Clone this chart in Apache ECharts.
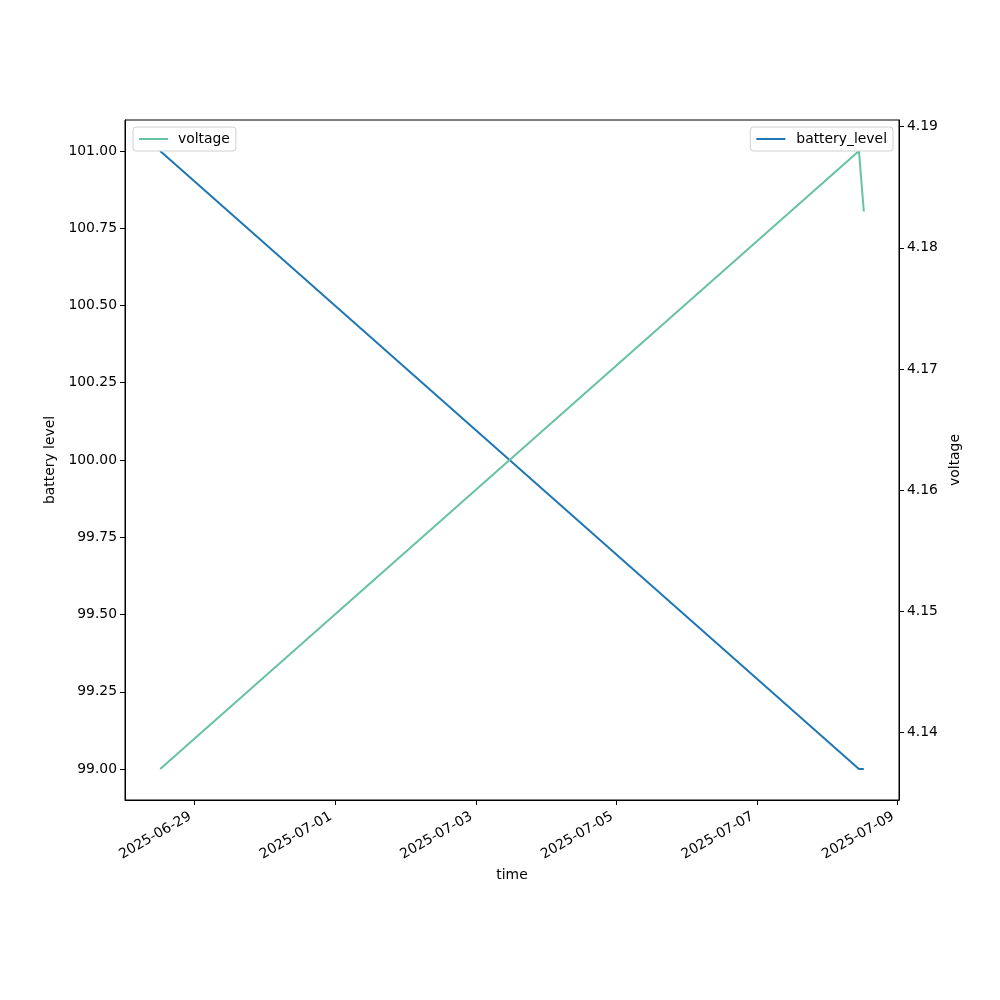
<!DOCTYPE html>
<html>
<head>
<meta charset="utf-8">
<script src="https://cdn.jsdelivr.net/npm/echarts@6/dist/echarts.min.js"></script>
<style>html,body{margin:0;padding:0;background:#fff}#c{width:1000px;height:1000px}</style>
</head>
<body>
<div id="c"></div>
<script>
// data
const times = ["2025-06-28T12:15:00Z", "2025-07-08T10:50:00Z", "2025-07-08T12:30:00Z"];
const batteryLevel = [101, 99, 99];
const voltage = [4.137, 4.188, 4.183];
const xTickDates = ["2025-06-29", "2025-07-01", "2025-07-03", "2025-07-05", "2025-07-07", "2025-07-09"];
const leftTicks = [99.00, 99.25, 99.50, 99.75, 100.00, 100.25, 100.50, 100.75, 101.00];
const rightTicks = [4.14, 4.15, 4.16, 4.17, 4.18, 4.19];

const tMs = times.map(t => Date.parse(t));
const xTickMs = xTickDates.map(d => Date.parse(d + "T00:00:00Z"));
function pad(arr) {
  const lo = Math.min(...arr), hi = Math.max(...arr), m = (hi - lo) * 0.05;
  return [lo - m, hi + m];
}
const xr = pad(tMs), yl = pad(batteryLevel), yr = pad(voltage);

const FONT = "DejaVu Sans";
const FS = 13.9;
const chart = echarts.init(document.getElementById('c'), null, {renderer: 'canvas'});
const axisLineStyle = {color: '#000', width: 1};
chart.setOption({
  animation: false,
  backgroundColor: '#fff',
  textStyle: {fontFamily: FONT, color: '#000'},
  grid: {left: 125, right: 101, top: 120, bottom: 200, show: true, borderColor: '#000', borderWidth: 1, backgroundColor: 'transparent'},
  legend: [
    {data: ['voltage'], left: 133, top: 127, orient: 'vertical', backgroundColor: '#fff', borderColor: '#d0d0d0', borderWidth: 1, borderRadius: 3,
     padding: [5, 6, 5, 6], itemWidth: 29, itemHeight: 2, icon: 'rect', itemGap: 0,
     textStyle: {fontFamily: FONT, fontSize: FS, color: '#000', padding: [0, 0, 0, 5]}},
    {data: ['battery_level'], right: 107, top: 127, orient: 'vertical', backgroundColor: '#fff', borderColor: '#d0d0d0', borderWidth: 1, borderRadius: 3,
     padding: [5, 6, 5, 6], itemWidth: 29, itemHeight: 2, icon: 'rect', itemGap: 0,
     textStyle: {fontFamily: FONT, fontSize: FS, color: '#000', padding: [0, 0, 0, 6]}}
  ],
  xAxis: {
    type: 'value', min: xr[0], max: xr[1],
    name: 'time', nameLocation: 'middle', nameGap: 66,
    nameTextStyle: {fontFamily: FONT, fontSize: FS, color: '#000'},
    axisLine: {show: true, lineStyle: axisLineStyle},
    axisTick: {show: true, inside: false, length: 5, lineStyle: {color: '#000'}, customValues: xTickMs},
    axisLabel: {show: true, rotate: 30, margin: 13, padding: [0, 5, 0, 0], fontFamily: FONT, fontSize: FS, color: '#000', customValues: xTickMs,
      formatter: v => new Date(v).toISOString().slice(0, 10)},
    splitLine: {show: false}
  },
  yAxis: [
    {type: 'value', min: yl[0], max: yl[1], position: 'left',
     name: 'battery level', nameLocation: 'middle', nameGap: 65, nameRotate: 90,
     nameTextStyle: {fontFamily: FONT, fontSize: FS, color: '#000'},
     axisLine: {show: true, lineStyle: axisLineStyle},
     axisTick: {show: true, length: 5, lineStyle: {color: '#000'}, customValues: leftTicks},
     axisLabel: {fontFamily: FONT, fontSize: FS, color: '#000', margin: 8, customValues: leftTicks, formatter: v => v.toFixed(2)},
     splitLine: {show: false}},
    {type: 'value', min: yr[0], max: yr[1], position: 'right',
     name: 'voltage', nameLocation: 'middle', nameGap: 47, nameRotate: 90,
     nameTextStyle: {fontFamily: FONT, fontSize: FS, color: '#000'},
     axisLine: {show: true, lineStyle: axisLineStyle},
     axisTick: {show: true, length: 5, lineStyle: {color: '#000'}, customValues: rightTicks},
     axisLabel: {fontFamily: FONT, fontSize: FS, color: '#000', margin: 8, customValues: rightTicks, formatter: v => v.toFixed(2)},
     splitLine: {show: false}}
  ],
  series: [
    {name: 'battery_level', type: 'line', yAxisIndex: 0, showSymbol: false, symbol: 'none',
     color: '#1f77b4', lineStyle: {color: '#1f77b4', width: 2},
     data: tMs.map((t, i) => [t, batteryLevel[i]])},
    {name: 'voltage', type: 'line', yAxisIndex: 1, showSymbol: false, symbol: 'none',
     color: '#66c2a5', lineStyle: {color: '#66c2a5', width: 2},
     data: tMs.map((t, i) => [t, voltage[i]])}
  ]
});
</script>
</body>
</html>
